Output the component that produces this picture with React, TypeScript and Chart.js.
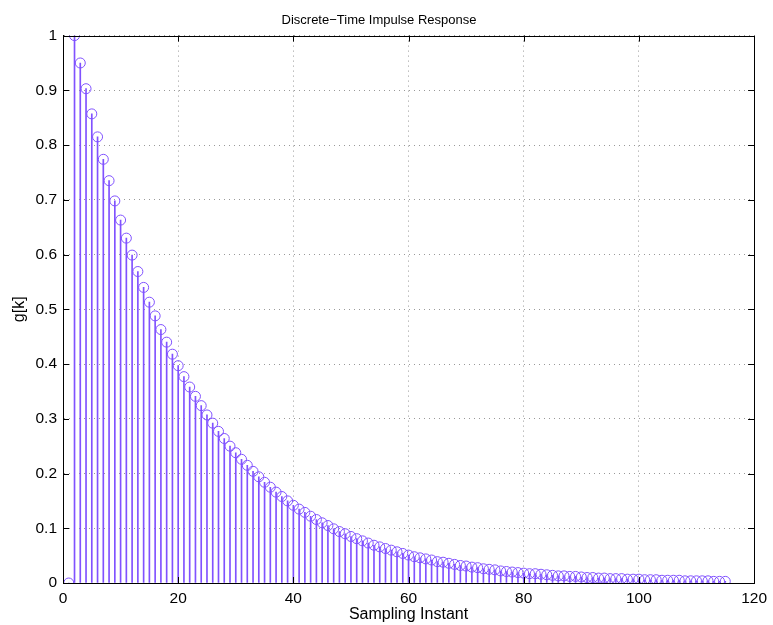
import React, { useEffect, useRef } from "react";
import { Chart, registerables } from "chart.js";

Chart.register(...registerables);

const samplingInstants: number[] = [
  1, 2, 3, 4, 5, 6, 7, 8, 9, 10, 11, 12, 13, 14, 15, 16, 17, 18, 19, 20,
  21, 22, 23, 24, 25, 26, 27, 28, 29, 30, 31, 32, 33, 34, 35, 36, 37, 38, 39, 40,
  41, 42, 43, 44, 45, 46, 47, 48, 49, 50, 51, 52, 53, 54, 55, 56, 57, 58, 59, 60,
  61, 62, 63, 64, 65, 66, 67, 68, 69, 70, 71, 72, 73, 74, 75, 76, 77, 78, 79, 80,
  81, 82, 83, 84, 85, 86, 87, 88, 89, 90, 91, 92, 93, 94, 95, 96, 97, 98, 99, 100,
  101, 102, 103, 104, 105, 106, 107, 108, 109, 110, 111, 112, 113, 114, 115,
];

const impulseResponse: number[] = [
  0, 1.0, 0.95, 0.903, 0.857, 0.815, 0.774, 0.735, 0.698, 0.663,
  0.630, 0.599, 0.569, 0.540, 0.513, 0.488, 0.463, 0.440, 0.418, 0.397,
  0.377, 0.358, 0.341, 0.324, 0.307, 0.292, 0.277, 0.264, 0.250, 0.238,
  0.226, 0.215, 0.204, 0.194, 0.184, 0.175, 0.166, 0.158, 0.150, 0.142,
  0.135, 0.129, 0.122, 0.116, 0.110, 0.105, 0.099, 0.094, 0.090, 0.085,
  0.081, 0.077, 0.073, 0.069, 0.066, 0.063, 0.060, 0.057, 0.054, 0.051,
  0.048, 0.046, 0.044, 0.042, 0.039, 0.038, 0.036, 0.034, 0.032, 0.031,
  0.029, 0.028, 0.026, 0.025, 0.024, 0.022, 0.021, 0.020, 0.019, 0.018,
  0.017, 0.017, 0.016, 0.015, 0.014, 0.013, 0.013, 0.012, 0.012, 0.011,
  0.010, 0.010, 0.009, 0.009, 0.008, 0.008, 0.008, 0.007, 0.007, 0.007,
  0.006, 0.006, 0.006, 0.005, 0.005, 0.005, 0.005, 0.004, 0.004, 0.004,
  0.004, 0.004, 0.003, 0.003, 0.003,
];

const chartTitle = "Discrete\u2212Time Impulse Response";
const xLabel = "Sampling Instant";
const yLabel = "g[k]";

const STEM_COLOR = "rgb(128, 82, 255)";
const FONT = "'Liberation Sans', Arial, Helvetica, sans-serif";

const boxPlugin = {
  id: "matlabBox",
  afterDraw(chart: any) {
    const { ctx, chartArea } = chart;
    const { left, right, top, bottom } = chartArea;
    const xs = chart.scales.x;
    const ys = chart.scales.y;
    ctx.save();
    ctx.strokeStyle = "#000";
    ctx.lineWidth = 1;
    const tl = 6;
    ctx.beginPath();
    xs.ticks.forEach((t: any) => {
      const px = Math.round(xs.getPixelForValue(t.value)) + 0.5;
      ctx.moveTo(px, bottom);
      ctx.lineTo(px, bottom - tl);
      ctx.moveTo(px, top);
      ctx.lineTo(px, top + tl);
    });
    ys.ticks.forEach((t: any) => {
      const py = Math.round(ys.getPixelForValue(t.value)) + 0.5;
      ctx.moveTo(left, py);
      ctx.lineTo(left + tl, py);
      ctx.moveTo(right, py);
      ctx.lineTo(right - tl, py);
    });
    ctx.stroke();
    ctx.strokeRect(Math.round(left) + 0.5, Math.round(top) + 0.5, Math.round(right - left), Math.round(bottom - top));
    ctx.restore();
  },
};

export default function App() {
  const canvasRef = useRef<HTMLCanvasElement | null>(null);

  useEffect(() => {
    document.body.style.margin = "0";
    const canvas = canvasRef.current;
    if (!canvas) return;
    const points = samplingInstants.map((k, i) => ({ x: k, y: impulseResponse[i] }));
    const chart = new Chart(canvas, {
      type: "bar",
      data: {
        datasets: [
          {
            type: "line",
            data: points,
            showLine: false,
            pointStyle: "circle",
            pointRadius: 5,
            pointBorderWidth: 1,
            pointBorderColor: STEM_COLOR,
            pointBackgroundColor: "rgba(0,0,0,0)",
            borderColor: STEM_COLOR,
            order: 0,
          } as any,
          {
            type: "bar",
            data: points,
            backgroundColor: STEM_COLOR,
            borderWidth: 0,
            barThickness: 1,
            order: 1,
          } as any,
        ],
      },
      options: {
        animation: false,
        responsive: false,
        maintainAspectRatio: false,
        devicePixelRatio: 1,
        layout: { padding: { left: 0, right: 15, top: 0, bottom: 0 } },
        plugins: {
          legend: { display: false },
          tooltip: { enabled: false },
          title: {
            display: true,
            text: chartTitle,
            color: "#000",
            font: { family: FONT, size: 13, weight: "normal" },
            padding: { top: 13, bottom: 7 },
          },
        },
        scales: {
          x: {
            type: "linear",
            min: 0,
            max: 120,
            offset: false,
            afterFit: (s: any) => {
              s.height = 42;
            },
            ticks: {
              stepSize: 20,
              color: "#000",
              padding: 6,
              font: { family: FONT, size: 15.5 },
              maxRotation: 0,
            },
            grid: {
              offset: false,
              drawTicks: false,
              color: "#999",
              lineWidth: 1,
            },
            border: { display: true, color: "#000", dash: [1, 4] },
            title: {
              display: true,
              text: xLabel,
              color: "#000",
              font: { family: FONT, size: 16 },
              padding: { top: 0, bottom: 1 },
            },
          } as any,
          y: {
            type: "linear",
            min: 0,
            max: 1,
            afterFit: (s: any) => {
              s.width = 63;
            },
            ticks: {
              stepSize: 0.1,
              color: "#000",
              padding: 6,
              font: { family: FONT, size: 15.5 },
              callback: (v: any) => String(Math.round(Number(v) * 10) / 10),
            },
            grid: {
              drawTicks: false,
              color: "#999",
              lineWidth: 1,
            },
            border: { display: true, color: "#000", dash: [1, 4] },
            title: {
              display: true,
              text: yLabel,
              color: "#000",
              font: { family: FONT, size: 16 },
              padding: { top: 10, bottom: 0 },
            },
          } as any,
        },
      },
      plugins: [boxPlugin],
    });
    return () => chart.destroy();
  }, []);

  return (
    <div style={{ position: "absolute", left: 0, top: 0, width: 773, height: 625 }}>
      <canvas ref={canvasRef} width={773} height={625} style={{ width: 773, height: 625 }} />
    </div>
  );
}
